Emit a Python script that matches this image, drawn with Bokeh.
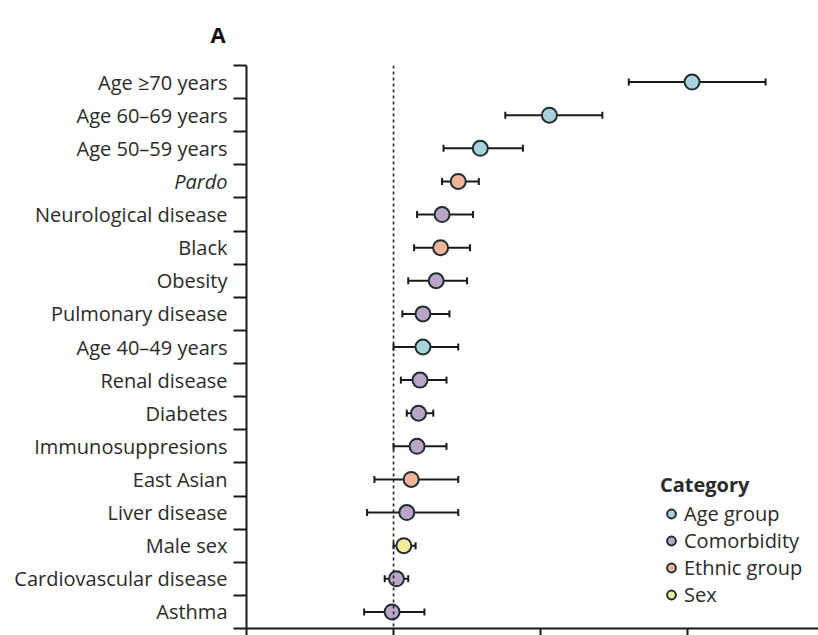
from bokeh.plotting import figure
from bokeh.layouts import row
from bokeh.models import (ColumnDataSource, Range1d, FixedTicker, Span, Whisker, TeeHead)
from bokeh.core.properties import value
from bokeh.embed import file_html
from bokeh.resources import INLINE

# ---- data (top to bottom) ----
labels = ["Age \u226570 years", "Age 60\u201369 years", "Age 50\u201359 years", "Pardo",
          "Neurological disease", "Black", "Obesity", "Pulmonary disease",
          "Age 40\u201349 years", "Renal disease", "Diabetes", "Immunosuppresions",
          "East Asian", "Liver disease", "Male sex", "Cardiovascular disease", "Asthma"]
estimate = [3.03, 2.06, 1.59, 1.44, 1.33, 1.32, 1.29, 1.20, 1.20, 1.18, 1.17, 1.16,
            1.12, 1.09, 1.07, 1.02, 0.99]
lower = [2.60, 1.76, 1.34, 1.33, 1.16, 1.14, 1.10, 1.06, 1.00, 1.05, 1.09, 1.00,
         0.87, 0.82, 1.00, 0.94, 0.80]
upper = [3.53, 2.42, 1.88, 1.58, 1.54, 1.52, 1.50, 1.38, 1.44, 1.36, 1.27, 1.36,
         1.44, 1.44, 1.15, 1.10, 1.21]
category = ["Age group", "Age group", "Age group", "Ethnic group",
            "Comorbidity", "Ethnic group", "Comorbidity", "Comorbidity",
            "Age group", "Comorbidity", "Comorbidity", "Comorbidity",
            "Ethnic group", "Comorbidity", "Sex", "Comorbidity", "Comorbidity"]
cat_names = ["Age group", "Comorbidity", "Ethnic group", "Sex"]
cat_colors = ["#a9d3dc", "#baa5c6", "#f2b59c", "#f4ec9c"]
x_ticks = [0, 1, 2, 3]
italic_labels = ["Pardo"]
panel_letter = "A"

FONT = "Open Sans"
TXT = "#2a2a2a"
FS = "20px"
DARK = "#1a1a1a"
n = len(labels)
ypos = [n - 0.5 - i for i in range(n)]

# layout constants (pixels)
W, H = 818, 635
LABEL_W = 233          # width of the label column
TICK_LEN = 13
TOP, BOTTOM = 65, 7
LABEL_RIGHT = 227

y_range = Range1d(0, n)

# ---------- label column ----------
lab = figure(width=LABEL_W, height=H, output_backend="svg", toolbar_location=None,
             x_range=Range1d(0, LABEL_W), y_range=y_range,
             x_axis_type=None, y_axis_type=None,
             min_border_left=0, min_border_right=0, min_border_top=TOP,
             min_border_bottom=BOTTOM)
lab.outline_line_color = None
lab.grid.visible = False
lab.title.text = panel_letter
lab.title.align = "left"
lab.title.offset = 210
lab.title.standoff = 33
lab.title.text_font = FONT
lab.title.text_font_size = "22px"
lab.title.text_font_style = "bold"
lab.title.text_color = "#111111"

lab_src = ColumnDataSource(dict(
    x=[LABEL_RIGHT] * n, y=ypos, text=labels,
    style=["italic" if l in italic_labels else "normal" for l in labels]))
lab.text("x", "y", text="text", source=lab_src, text_align="right",
         text_baseline="middle", text_font=value(FONT), text_font_size=FS,
         text_font_style="style", text_color=TXT)

# ---------- forest plot ----------
p = figure(width=W - LABEL_W, height=H, output_backend="svg", toolbar_location=None,
           x_range=Range1d(0, 3.89), y_range=y_range,
           min_border_left=TICK_LEN, min_border_top=TOP, min_border_bottom=BOTTOM,
           min_border_right=0)
p.outline_line_color = None
p.grid.visible = False

p.add_layout(Span(location=1, dimension="height", line_color="#222222",
                  line_width=1.6, line_dash="3 3"))

src = ColumnDataSource(dict(y=ypos, est=estimate, lo=lower, hi=upper, cat=category))
p.add_layout(Whisker(source=src, base="y", lower="lo", upper="hi", dimension="width",
                     line_color=DARK, line_width=2,
                     lower_head=TeeHead(size=7, line_width=2, line_color=DARK),
                     upper_head=TeeHead(size=7, line_width=2, line_color=DARK)))

for name, col in zip(cat_names, cat_colors):
    idx = [i for i, c in enumerate(category) if c == name]
    s = ColumnDataSource(dict(x=[estimate[i] for i in idx], y=[ypos[i] for i in idx]))
    p.scatter("x", "y", source=s, size=15, fill_color=col, line_color="#1f2d30",
              line_width=2, legend_label=name)

# y axis: line + ticks at row boundaries, labels drawn in the label column
yax = p.yaxis[0]
yax.ticker = FixedTicker(ticks=[], minor_ticks=list(range(n + 1)))
yax.major_tick_out = 0
yax.major_tick_in = 0
yax.major_label_standoff = 0
yax.minor_tick_out = TICK_LEN
yax.minor_tick_in = 0
yax.minor_tick_line_width = 2
yax.minor_tick_line_color = DARK
yax.axis_line_width = 2
yax.axis_line_color = DARK

# x axis: tick labels fall outside the picture
xax = p.xaxis[0]
xax.ticker = FixedTicker(ticks=[], minor_ticks=x_ticks)
xax.major_tick_out = 0
xax.major_tick_in = 0
xax.major_label_standoff = 0
xax.minor_tick_out = BOTTOM
xax.minor_tick_in = 0
xax.minor_tick_line_width = 2
xax.minor_tick_line_color = DARK
xax.axis_line_width = 2
xax.axis_line_color = DARK

lg = p.legend[0]
lg.title = "Category"
lg.title_text_font = FONT
lg.title_text_font_size = FS
lg.title_text_font_style = "bold"
lg.title_text_color = TXT
lg.label_text_font = FONT
lg.label_text_font_size = FS
lg.label_text_color = TXT
lg.location = (414, 20)
lg.border_line_color = None
lg.background_fill_alpha = 0
lg.glyph_width = 22
lg.glyph_height = 25
lg.label_standoff = 2
lg.spacing = 0
lg.padding = 2
lg.margin = 0
lg.label_height = 25
lg.title_standoff = 2

layout = row(lab, p, spacing=0)
open("out.html", "w").write(file_html(layout, INLINE))
